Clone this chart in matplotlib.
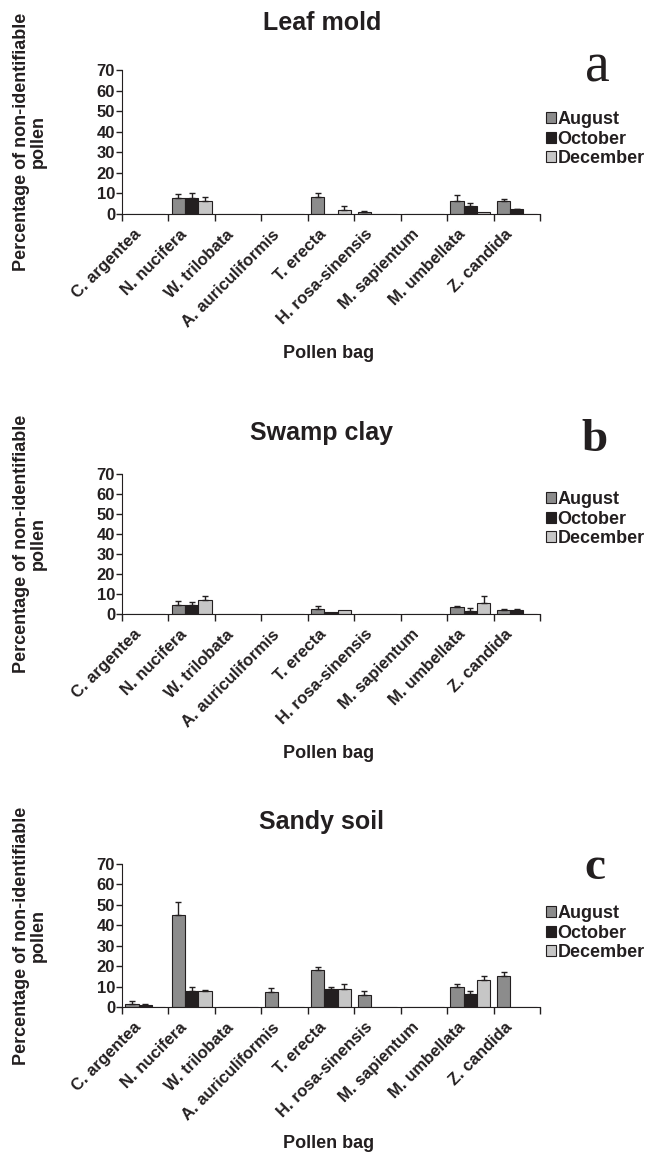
import numpy as np
import matplotlib
matplotlib.use('Agg')
import matplotlib.pyplot as plt
from matplotlib.transforms import ScaledTranslation

plt.rcParams['font.family'] = ['Liberation Sans', 'DejaVu Sans']
plt.rcParams['font.weight'] = 'bold'

nan = np.nan
bags = ['C. argentea', 'N. nucifera', 'W. trilobata', 'A. auriculiformis', 'T. erecta',
        'H. rosa-sinensis', 'M. sapientum', 'M. umbellata', 'Z. candida']
months = ['August', 'October', 'December']
soils = ['Leaf mold', 'Swamp clay', 'Sandy soil']
letters = ['a', 'b', 'c']

# leaf mold
leaf_aug = [nan, 8.0, nan, nan, 8.3, 1.2, nan, 6.2, 6.2]
leaf_oct = [nan, 8.0, nan, nan, nan, nan, nan, 4.0, 2.2]
leaf_dec = [nan, 6.2, nan, nan, 1.8, nan, nan, 1.0, nan]
leaf_aug_sd = [0, 1.8, 0, 0, 2.0, 0.4, 0, 3.0, 1.3]
leaf_oct_sd = [0, 2.0, 0, 0, 0, 0, 0, 1.2, 0.3]
leaf_dec_sd = [0, 2.0, 0, 0, 2.2, 0, 0, 0, 0]

# swamp clay
swamp_aug = [nan, 4.5, nan, nan, 2.5, nan, nan, 3.3, 1.8]
swamp_oct = [nan, 4.5, nan, nan, 1.2, nan, nan, 1.7, 2.0]
swamp_dec = [nan, 7.0, nan, nan, 1.8, nan, nan, 5.3, nan]
swamp_aug_sd = [0, 2.2, 0, 0, 1.3, 0, 0, 0.5, 0.5]
swamp_oct_sd = [0, 1.5, 0, 0, 0, 0, 0, 1.3, 0.3]
swamp_dec_sd = [0, 1.8, 0, 0, 0, 0, 0, 3.5, 0]

# sandy soil
sandy_aug = [1.5, 45.0, nan, 7.5, 18.0, 6.0, nan, 10.0, 15.0]
sandy_oct = [1.0, 8.0, nan, nan, 9.0, nan, nan, 6.5, nan]
sandy_dec = [nan, 8.0, nan, nan, 9.0, nan, nan, 13.0, nan]
sandy_aug_sd = [1.5, 6.5, 0, 2.0, 1.5, 2.0, 0, 1.5, 2.0]
sandy_oct_sd = [0.5, 2.0, 0, 0, 1.0, 0, 0, 1.5, 0]
sandy_dec_sd = [0, 0.5, 0, 0, 2.5, 0, 0, 2.0, 0]

vals = [[leaf_aug, leaf_oct, leaf_dec],
        [swamp_aug, swamp_oct, swamp_dec],
        [sandy_aug, sandy_oct, sandy_dec]]
sds = [[leaf_aug_sd, leaf_oct_sd, leaf_dec_sd],
       [swamp_aug_sd, swamp_oct_sd, swamp_dec_sd],
       [sandy_aug_sd, sandy_oct_sd, sandy_dec_sd]]

colors = ['#8c8c8c', '#231f20', '#c6c6c6']
ink = '#231f20'

W, H = 650., 1156.
fig = plt.figure(figsize=(6.5, 11.56), dpi=100)

# pixel layout: (top of 70, y of 0) for each panel
ax_px = [(70, 214), (474, 614), (864, 1007)]
title_y = [23, 433, 822]
xlab_y = [353, 753, 1143]
letter_y = [67, 440, 868]
leg_y = [139, 519, 933]

x = np.arange(len(bags))
bw = 0.285

for p in range(3):
    top, bot = ax_px[p]
    ax = fig.add_axes([122/W, 1-bot/H, 418/W, (bot-top)/H])
    for m in range(3):
        v = np.array(vals[p][m], dtype=float)
        s = np.array(sds[p][m], dtype=float)
        xs = x + (m-1)*bw
        ax.bar(xs, np.nan_to_num(v), bw, color=colors[m], edgecolor=ink, linewidth=0.8,
               label=months[m], zorder=2)
        ok = (~np.isnan(v)) & (s > 0)
        ax.errorbar(xs[ok], v[ok], yerr=[np.zeros(ok.sum()), s[ok]], fmt='none',
                    ecolor=ink, elinewidth=1, capsize=2.5, capthick=1, zorder=3)
    ax.set_xlim(-0.5, 8.5)
    ax.set_ylim(0, 70)
    ax.set_yticks(range(0, 71, 10))
    ax.spines['top'].set_visible(False)
    ax.spines['right'].set_visible(False)
    ax.spines['left'].set_color(ink)
    ax.spines['bottom'].set_color(ink)
    ax.tick_params(axis='y', length=4, width=1, color=ink, labelsize=12, pad=1, labelcolor=ink)
    ax.set_xticks(x)
    ax.set_xticklabels(bags, rotation=45, ha='right', va='center', rotation_mode='anchor',
                       fontsize=12, color=ink)
    ax.set_xticks(np.arange(-0.5, 9, 1), minor=True)
    ax.tick_params(axis='x', which='major', length=0, pad=13)
    ax.tick_params(axis='x', which='minor', length=5, width=1, color=ink)
    for lab in ax.get_xticklabels():
        lab.set_transform(lab.get_transform() + ScaledTranslation(-0.07, 0, fig.dpi_scale_trans))

    fig.text(0.495, 1-title_y[p]/H, soils[p], ha='center', va='center', fontsize=18, color=ink)
    fig.text(0.505, 1-xlab_y[p]/H, 'Pollen bag', ha='center', va='center', fontsize=13, color=ink)
    fig.text(30/W, 1-(top+bot)/2/H, 'Percentage of non-identifiable\npollen', rotation=90,
             ha='center', va='center', multialignment='center', fontsize=13, color=ink,
             linespacing=1.0)
    if p == 0:
        fig.text(597/W, 1-letter_y[p]/H, letters[p], ha='center', va='center', fontsize=40,
                 family='Liberation Serif', weight='normal', color=ink)
    else:
        fig.text(595/W, 1-letter_y[p]/H, letters[p], ha='center', va='center', fontsize=34,
                 family='Liberation Serif', weight='bold', color=ink)
    leg = ax.legend(loc='center left', bbox_to_anchor=(546/W, 1-leg_y[p]/H),
                    bbox_transform=fig.transFigure, frameon=False, fontsize=13,
                    handlelength=0.55, handleheight=0.55, handletextpad=0.1,
                    borderpad=0, labelspacing=0.15, borderaxespad=0)
    for t in leg.get_texts():
        t.set_color(ink)

fig.savefig('out.png', dpi=100)
